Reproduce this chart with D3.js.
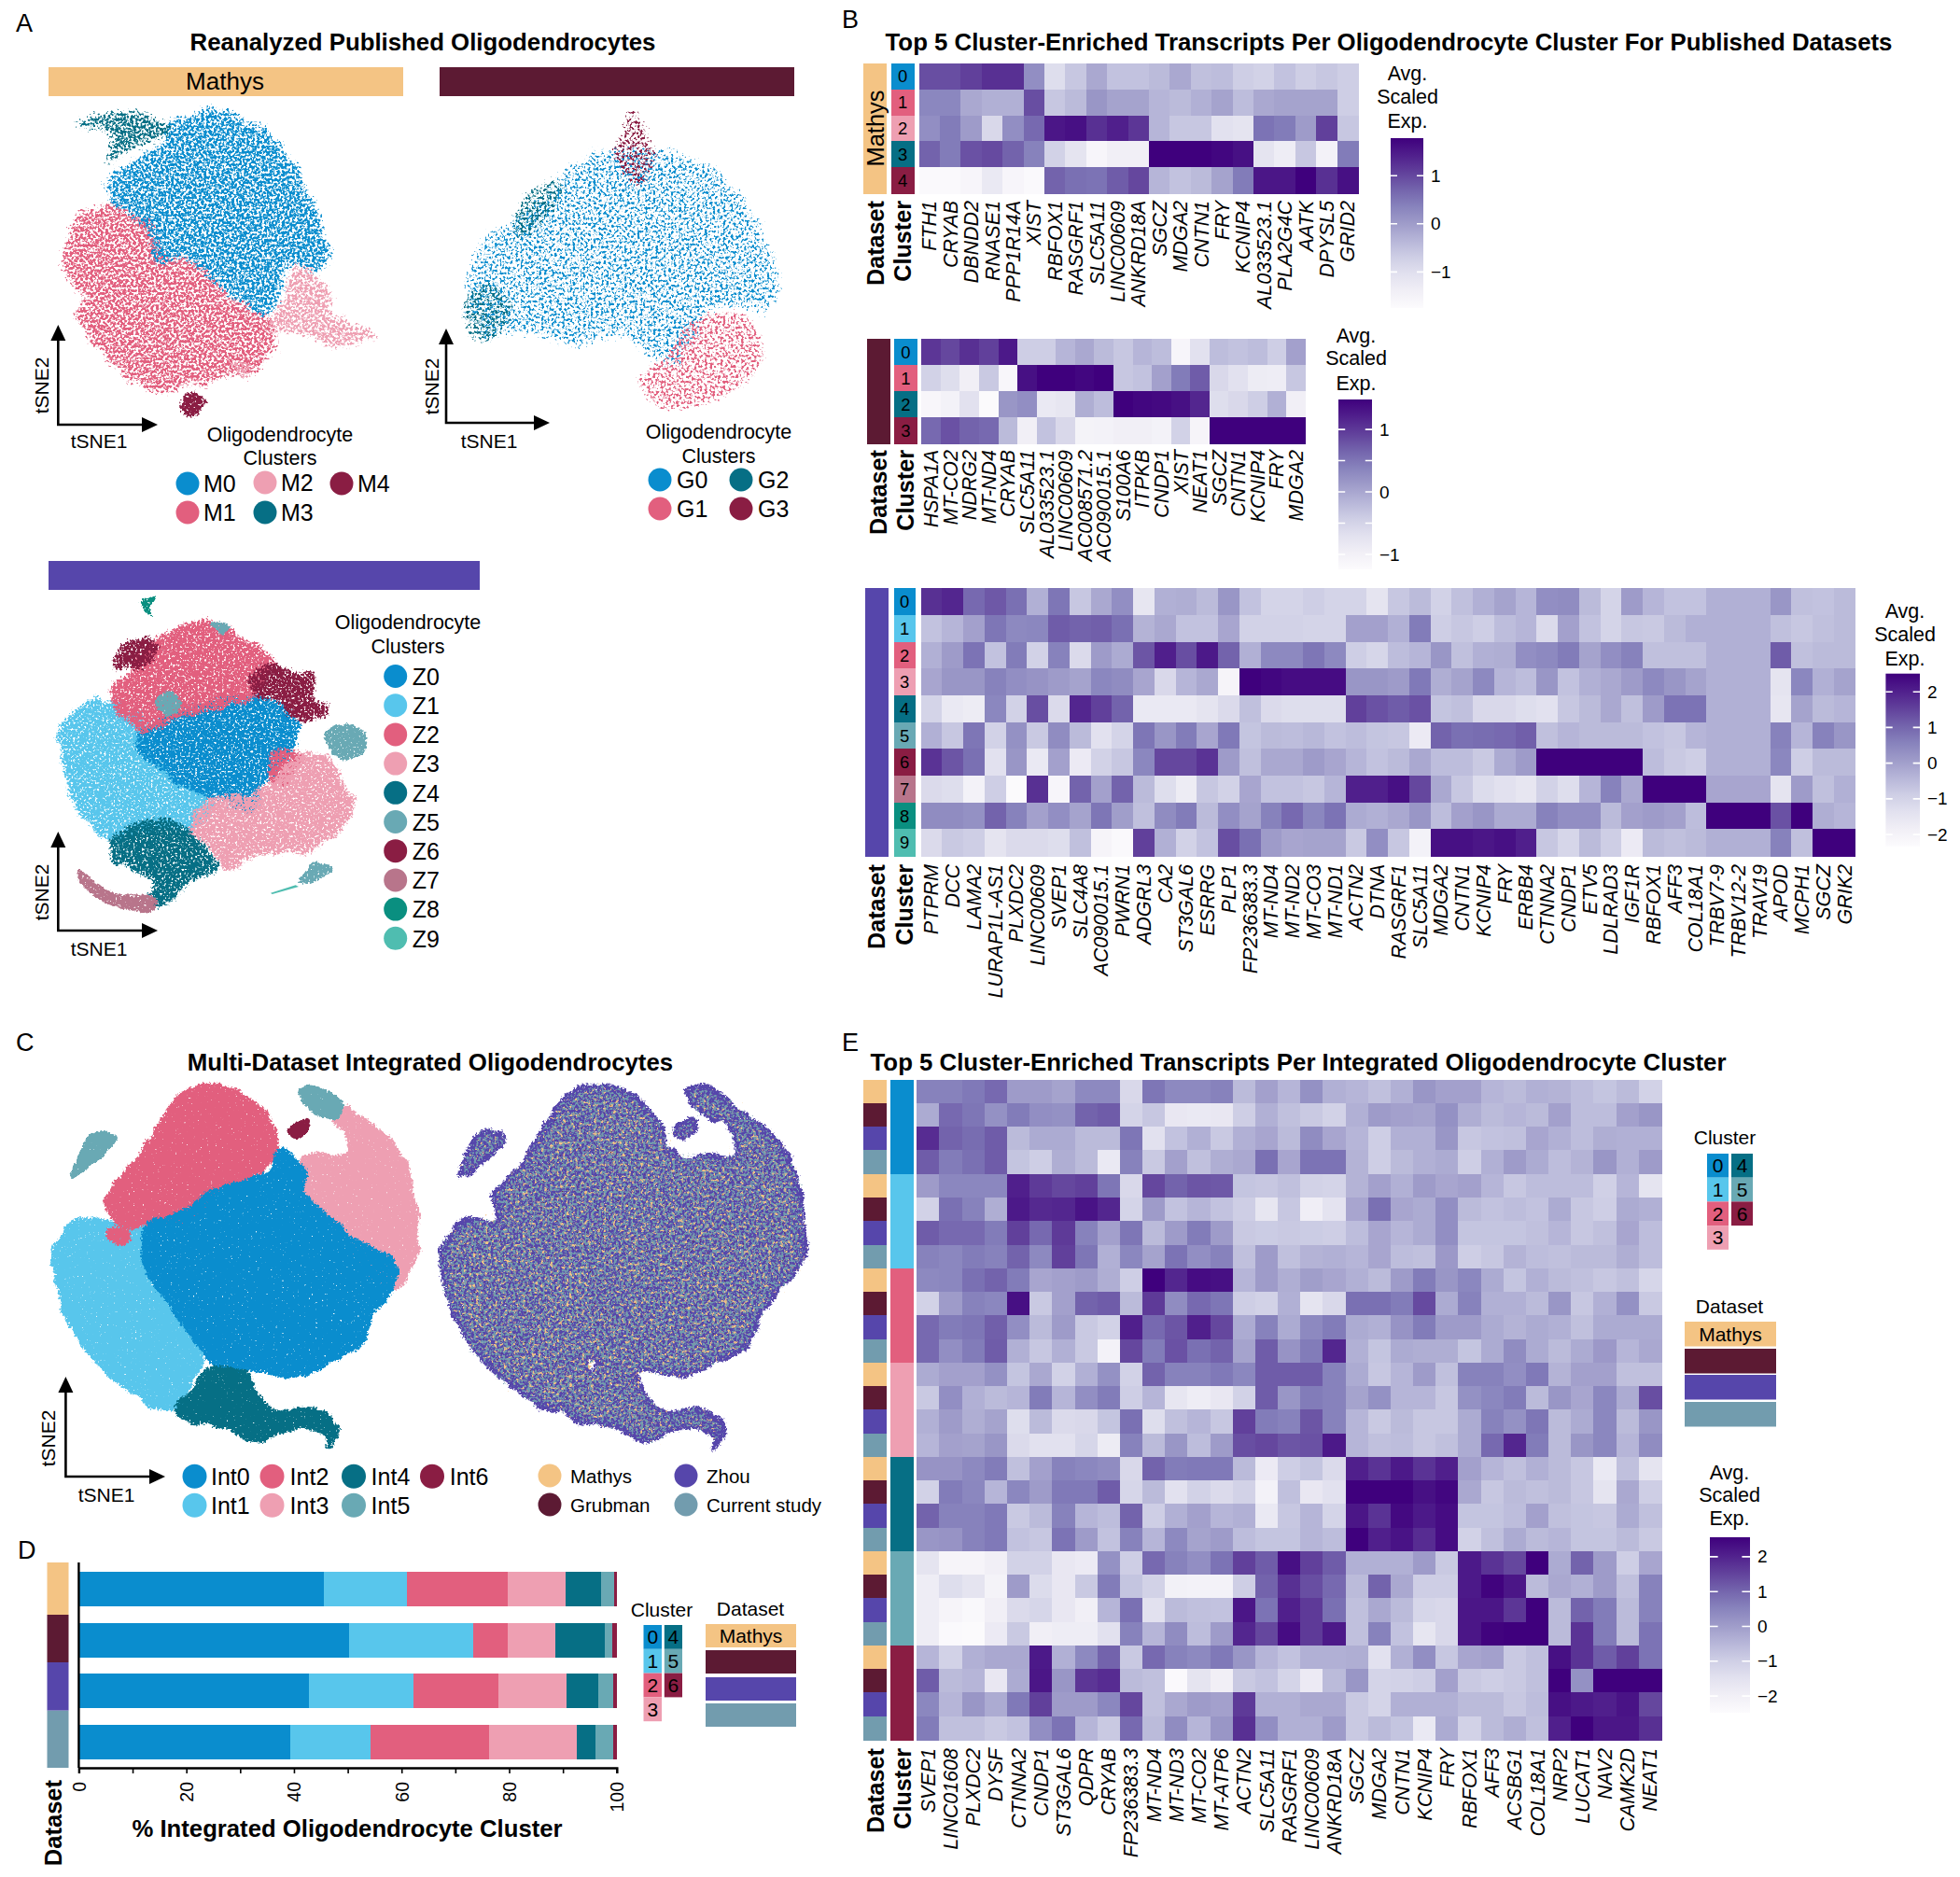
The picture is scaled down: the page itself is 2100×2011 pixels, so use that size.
<!DOCTYPE html>
<html><head><meta charset="utf-8">
<script src="https://cdn.jsdelivr.net/npm/d3@7/dist/d3.min.js"></script>
<style>html,body{margin:0;padding:0;background:#fff}svg{display:block;font-family:"Liberation Sans",Arial,sans-serif}</style>
</head><body><svg id="c" width="2100" height="2011"></svg>
<script>
// ---------- colours ----------
const clusterColors=["#0A8DCE","#58C6EC","#E25F7E","#EE9FB2","#066F85","#69A9B4","#8A1D43"];
const zhouClusterColors=["#0A8DCE","#58C6EC","#E25F7E","#EE9FB2","#066F85","#69A9B4","#8A1D43","#B8758B","#0A8F80","#4FBDB0"];
const mathysClusterColors=["#0A8DCE","#E25F7E","#EE9FB2","#066F85","#8A1D43"];
const grubmanClusterColors=["#0A8DCE","#E25F7E","#066F85","#8A1D43"];
const datasetNames=["Mathys","Grubman","Zhou","Current study"];
const datasetColors=["#F4C484","#5C1A33","#5646AB","#729CAE"];

// ---------- heatmap values: position on each colour bar, 0 (bottom) to 100 (top) ----------
const mathysGenes=["FTH1","CRYAB","DBNDD2","RNASE1","PPP1R14A","XIST","RBFOX1","RASGRF1","SLC5A11","LINC00609","ANKRD18A","SGCZ","MDGA2","CNTN1","FRY","KCNIP4","AL033523.1","PLA2G4C","AATK","DPYSL5","GRID2"];
const mathysLevels=[
[76,76,80,85,85,55,22,33,45,35,35,38,45,36,37,30,28,35,30,33,30],
[58,58,45,42,42,76,33,38,52,47,47,40,38,42,47,37,45,47,47,47,30],
[55,62,50,25,55,68,93,95,85,90,83,40,33,33,20,18,65,62,50,80,33],
[70,62,75,77,70,60,28,18,5,10,10,100,100,100,98,95,18,12,33,8,62],
[2,2,5,15,5,2,70,66,65,72,78,40,35,38,47,62,93,93,100,85,95]];
const grubmanGenes=["HSPA1A","MT-CO2","NDRG2","MT-ND4","CRYAB","SLC5A11","AL033523.1","LINC00609","AC008571.2","AC090015.1","S100A6","ITPKB","CNDP1","XIST","NEAT1","SGCZ","CNTN1","KCNIP4","FRY","MDGA2"];
const grubmanLevels=[
[83,78,85,80,92,30,30,40,45,38,33,40,37,5,20,37,35,37,30,48],
[28,22,10,32,4,95,100,100,98,100,33,35,48,62,72,25,20,13,12,33],
[4,8,20,1,52,55,15,17,43,37,100,98,97,95,88,22,25,30,42,10],
[68,75,70,68,38,10,35,25,7,8,10,10,8,28,6,100,100,100,100,100]];
const zhouGenes=["PTPRM","DCC","LAMA2","LURAP1L-AS1","PLXDC2","LINC00609","SVEP1","SLC4A8","AC090015.1","PWRN1","ADGRL3","CA2","ST3GAL6","ESRRG","PLP1","FP236383.3","MT-ND4","MT-ND2","MT-CO3","MT-ND1","ACTN2","DTNA","RASGRF1","SLC5A11","MDGA2","CNTN1","KCNIP4","FRY","ERBB4","CTNNA2","CNDP1","ETV5","LDLRAD3","IGF1R","RBFOX1","AFF3","COL18A1","TRBV7-9","TRBV12-2","TRAV19","APOD","MCPH1","SGCZ","GRIK2"];
const zhouLevels=[
[85,88,68,73,66,42,64,33,45,55,17,42,43,38,52,35,27,27,30,27,27,18,33,38,28,36,42,47,40,55,56,38,27,50,40,35,35,42,42,42,52,36,35,38],
[35,40,48,64,57,58,72,70,71,66,41,45,35,35,46,28,28,28,27,27,48,48,42,62,30,33,30,37,40,24,48,35,27,33,32,38,42,42,42,42,36,33,36,38],
[42,50,65,35,62,28,60,24,50,44,74,90,76,92,70,42,57,57,64,57,30,26,37,40,52,36,42,43,55,57,62,47,55,60,36,36,36,42,42,42,72,36,38,38],
[46,52,52,60,55,53,50,47,58,56,46,25,40,45,6,100,98,96,96,96,52,52,50,63,43,47,57,40,37,52,35,42,45,50,57,52,47,42,42,42,18,58,42,47],
[27,15,13,58,28,76,24,88,80,70,15,15,15,18,24,36,24,22,22,22,80,75,72,75,34,36,25,25,22,20,33,38,45,36,50,65,65,42,42,42,17,47,38,40],
[42,33,64,28,54,32,56,38,20,27,64,52,62,46,63,34,38,37,39,35,37,34,33,14,70,66,67,68,71,36,40,38,38,38,35,33,40,42,42,42,60,40,60,52],
[84,74,66,20,52,15,48,14,28,33,58,78,78,84,50,36,45,45,50,46,40,35,38,45,37,37,32,44,50,100,100,100,100,100,37,32,30,42,42,42,58,30,38,38],
[24,22,8,30,1,85,5,70,48,70,38,22,13,33,28,46,35,35,33,40,90,90,95,78,45,33,23,20,17,28,22,40,60,45,100,100,100,46,46,46,18,50,36,42],
[56,56,54,70,60,48,55,47,64,49,36,56,62,38,55,47,60,68,58,65,44,42,45,52,37,48,52,44,44,60,55,55,38,48,50,48,37,100,100,100,75,100,43,40],
[24,32,30,18,24,24,22,36,6,2,80,42,28,35,76,66,50,46,47,47,32,55,33,8,95,95,93,95,90,33,26,38,30,14,38,36,38,42,42,42,60,36,100,100]];
const intGenes=["SVEP1","LINC01608","PLXDC2","DYSF","CTNNA2","CNDP1","ST3GAL6","QDPR","CRYAB","FP236383.3","MT-ND4","MT-ND3","MT-CO2","MT-ATP6","ACTN2","SLC5A11","RASGRF1","LINC00609","ANKRD18A","SGCZ","MDGA2","CNTN1","KCNIP4","FRY","RBFOX1","AFF3","ACSBG1","COL18A1","NRP2","LUCAT1","NAV2","CAMK2D","NEAT1"];
const intLevels=[
[60,60,63,68,50,50,47,57,57,25,64,57,57,60,38,48,40,54,42,40,36,42,52,48,48,40,38,42,41,37,34,38,28],
[44,68,64,54,62,55,54,70,72,27,33,16,15,16,30,42,36,32,28,42,50,48,47,54,43,38,40,38,48,37,37,48,52],
[86,70,67,72,38,44,44,38,38,64,20,35,42,32,42,46,38,56,46,40,30,42,42,52,33,35,36,46,42,37,43,42,42],
[72,62,66,72,34,30,43,38,15,60,32,48,36,43,45,66,46,65,65,41,30,38,42,44,30,42,50,44,37,41,52,42,50],
[50,58,58,58,90,82,78,80,64,25,78,70,74,73,34,33,36,28,27,41,48,42,50,46,48,40,33,37,37,37,29,40,18],
[28,66,60,43,92,87,88,94,88,27,50,35,40,35,30,17,33,11,19,46,66,46,44,55,38,35,37,35,44,33,30,44,42],
[72,68,68,62,80,68,82,60,48,64,38,50,62,50,32,31,32,31,30,37,46,40,44,55,34,34,34,36,40,33,36,46,37],
[60,58,62,60,70,57,80,64,42,58,47,65,55,60,36,50,36,41,42,40,46,37,36,51,30,33,41,37,36,38,38,43,37],
[57,58,66,70,62,46,48,50,43,30,100,88,96,95,40,50,43,49,46,42,38,50,62,52,58,44,34,42,38,36,33,36,26],
[28,50,60,58,95,32,48,70,72,38,82,56,68,64,30,28,42,18,25,66,66,62,77,44,60,42,42,38,52,33,42,54,32],
[68,62,64,71,55,38,50,32,28,90,68,74,90,78,44,60,44,57,62,44,42,53,62,50,50,44,41,44,42,36,44,44,44],
[68,55,62,72,42,33,42,32,8,78,62,75,66,70,47,72,53,62,88,42,34,44,43,43,34,44,56,44,38,44,51,40,45],
[44,48,48,54,34,45,28,42,54,28,70,60,60,63,58,72,72,72,60,44,33,40,50,36,60,60,55,63,41,48,48,36,36],
[32,55,42,38,40,62,40,55,62,30,40,17,12,16,28,72,52,62,60,47,54,40,40,33,54,58,62,38,52,46,58,44,76],
[42,50,43,47,22,38,24,25,34,66,22,36,40,33,80,62,60,74,60,40,32,38,33,33,44,60,54,64,38,44,58,38,52],
[40,48,47,52,24,20,20,26,13,60,38,52,37,50,76,78,74,75,92,40,36,37,33,36,44,68,88,62,38,52,58,40,56],
[53,53,57,62,36,48,60,58,56,25,70,62,63,63,38,14,30,34,24,90,84,92,84,90,48,40,36,42,38,33,15,36,18],
[28,62,58,40,58,50,63,63,72,26,38,20,28,24,28,8,36,16,20,100,100,100,95,98,45,33,38,36,38,33,18,45,30],
[70,60,60,63,32,38,60,40,37,70,30,42,48,40,42,15,33,40,27,93,84,97,92,96,34,34,37,48,36,34,33,44,36],
[52,53,60,63,35,33,65,50,35,60,40,57,47,50,37,34,34,40,37,100,90,94,86,96,28,36,44,38,40,34,34,38,32],
[18,6,6,10,28,28,16,14,54,30,68,60,55,65,80,72,95,80,72,42,42,42,50,32,92,84,78,100,44,70,50,30,46],
[12,22,18,7,50,23,16,32,62,34,28,9,8,8,30,70,85,76,68,38,70,45,30,30,92,99,93,38,45,42,50,36,60],
[12,6,3,10,24,26,16,10,40,66,20,38,36,35,93,65,90,82,66,36,45,38,26,25,93,93,83,100,38,70,62,38,60],
[12,2,1,14,32,10,12,12,20,60,40,56,37,50,88,78,96,82,92,36,60,35,17,25,93,99,100,100,38,84,62,38,65],
[40,28,42,45,45,92,42,57,70,32,68,60,57,63,52,40,35,42,42,43,20,42,55,33,46,48,32,36,95,84,72,80,65],
[72,38,40,16,44,93,52,83,86,38,36,2,18,10,32,35,27,14,38,52,27,28,30,48,32,30,32,36,100,54,100,100,100],
[58,40,52,44,63,80,50,50,58,78,36,45,50,48,82,42,42,45,45,32,27,42,42,42,38,38,33,37,95,92,90,94,78],
[62,36,36,32,35,55,65,40,32,68,38,56,40,52,85,55,42,42,50,32,38,34,15,44,28,38,43,36,90,100,93,93,85]];

// ---------- stacked bars: % of each dataset in integrated clusters ----------
const barClusters=["0","1","2","3","4","5","6"];
const barShares=[
[45.6,15.4,18.7,10.8,6.6,2.5,0.4],
[50.3,23.1,6.3,8.9,9.2,1.4,0.8],
[42.8,19.4,15.8,12.7,5.9,2.8,0.6],
[39.3,15.0,21.9,16.3,3.5,3.4,0.6]];

// ---------- tSNE clouds. Individual cells cannot be recovered, so each cluster is a hand-traced outline;
// the grainy look is an SVG filter texture, not data. ----------
const mathysClouds=[
[[[470,215],[540,190],[600,170],[680,205],[760,245],[815,300],[860,370],[895,440],[930,510],[960,590],[965,660],[930,690],[860,660],[815,740],[790,810],[745,830],[700,790],[640,760],[580,700],[500,650],[420,660],[400,600],[390,540],[320,500],[280,470],[260,420],[330,350],[400,310],[450,260]]],
[[[160,510],[230,490],[300,490],[400,560],[420,650],[500,650],[580,710],[640,770],[700,800],[745,840],[790,880],[780,950],[700,1020],[620,1030],[560,1050],[460,1060],[380,1060],[320,1020],[250,960],[190,880],[165,820],[200,790],[140,720],[115,650],[140,590]]],
[[[860,670],[920,720],[970,770],[960,830],[1030,860],[1115,900],[1060,920],[980,925],[900,890],[820,880],[770,870],[820,800],[840,720]],[[650,990],[710,990],[700,1025],[665,1010]]],
[[[165,215],[250,195],[330,185],[400,205],[450,235],[400,265],[350,275],[300,310],[260,335],[270,290],[280,250],[220,225]]],
[[[510,1085],[560,1095],[575,1100],[545,1150],[510,1155],[490,1130]]]];
const grubmanClouds=[
[[[425,165],[470,125],[510,118],[550,125],[585,150],[610,185],[622,225],[610,250],[575,245],[555,265],[540,295],[500,270],[460,275],[420,265],[385,270],[372,240],[390,190]]],
[[[555,255],[590,250],[612,275],[600,305],[560,325],[530,328],[510,305],[530,285]]],
[[[372,240],[395,225],[410,255],[385,275],[372,265]],[[420,155],[450,145],[440,175],[410,195]]],
[[[505,85],[515,100],[525,125],[510,150],[490,125],[497,105]]]];
const zhouClouds=[
[[[370,500],[470,440],[600,400],[700,385],[800,410],[860,470],[840,560],[790,620],[740,660],[720,740],[640,710],[560,680],[480,650],[420,590],[365,550]]],
[[[150,440],[220,400],[300,420],[370,480],[365,550],[420,600],[480,660],[590,720],[530,790],[420,800],[320,810],[260,830],[200,780],[150,680],[120,570],[110,480]]],
[[[330,300],[370,240],[450,190],[530,150],[620,160],[700,210],[780,270],[740,340],[690,390],[600,400],[470,440],[380,480],[310,430],[270,390],[290,340]],[[800,560],[870,580],[830,650],[790,640]]],
[[[530,780],[600,720],[720,700],[800,650],[870,580],[950,580],[990,650],[1040,730],[1000,790],[940,850],[830,870],[730,880],[640,920],[570,840]]],
[[[280,850],[370,800],[500,810],[560,880],[600,920],[520,960],[460,1000],[440,1040],[400,1040],[410,970],[360,930],[290,900]]],
[[[960,500],[1010,470],[1080,490],[1070,560],[1020,580],[960,530]],[[420,380],[460,365],[490,410],[450,435],[420,420]],[[590,140],[650,155],[620,175]],[[870,980],[930,915],[975,930],[920,970],[880,985]]],
[[[720,340],[770,280],[820,310],[900,325],[900,380],[950,420],[880,445],[830,400],[750,370]],[[285,260],[350,205],[400,215],[390,250],[330,280]]],
[[[160,935],[230,990],[300,1020],[400,1020],[410,1060],[320,1060],[230,1030],[165,965]]],
[[[368,75],[405,62],[410,70],[395,85],[395,120],[375,95]]],
[[[780,1010],[860,985],[870,990],[785,1014]]]];
const intClouds=[
[[[480,250],[530,320],[520,370],[570,460],[620,530],[700,620],[690,700],[650,790],[640,860],[580,920],[510,970],[440,950],[370,950],[330,880],[280,760],[230,640],[225,500],[290,450],[370,370],[460,320]]],
[[[100,470],[150,480],[230,490],[225,640],[280,760],[330,900],[310,1000],[270,1080],[190,1010],[130,920],[80,800],[60,700],[50,580],[70,510]]],
[[[300,60],[350,40],[420,80],[470,180],[470,260],[440,320],[370,370],[310,470],[230,480],[180,480],[150,410],[210,280],[250,170]],[[150,510],[190,510],[190,540],[160,530]]],
[[[600,110],[650,160],[700,240],[730,360],[740,500],[740,580],[700,680],[650,640],[610,530],[570,450],[520,360],[530,270],[610,270],[610,190],[580,130]]],
[[[340,960],[410,960],[440,1040],[470,1090],[550,1085],[580,1130],[585,1170],[530,1130],[480,1150],[440,1180],[370,1130],[300,1110],[285,1080],[320,1020]],[[570,1110],[588,1140],[570,1205],[578,1150]]],
[[[520,55],[550,45],[600,100],[585,145],[530,100]],[[85,330],[130,190],[170,210],[120,290]]],
[[[495,185],[535,150],[525,200],[510,205]]]];

// ---------- drawing ----------
const svg=d3.select("#c");
const defs=svg.append("defs");
const purple=d3.scaleSequential(d3.interpolatePurples).domain([0,100]);
let fid=0;
function text(s,x,y,o={}){
  const t=svg.append("text").text(s).attr("x",x).attr("y",y).attr("font-size",o.size||21)
   .attr("text-anchor",o.anchor||"middle").attr("fill",o.fill||"#000");
  if(o.bold)t.attr("font-weight","bold");
  if(o.rot!=null)t.attr("transform",`rotate(${o.rot} ${x} ${y})`);
  return t;
}
function speckle(color,box,o){
  const id="sp"+(fid++);
  const f=defs.append("filter").attr("id",id).attr("filterUnits","userSpaceOnUse")
    .attr("x",box[0]).attr("y",box[1]).attr("width",box[2]).attr("height",box[3])
    .attr("color-interpolation-filters","sRGB");
  f.append("feTurbulence").attr("type","fractalNoise").attr("baseFrequency",.07).attr("numOctaves",3).attr("seed",o.seed+100).attr("result","w");
  f.append("feDisplacementMap").attr("in","SourceAlpha").attr("in2","w").attr("scale",o.rough||16).attr("xChannelSelector","R").attr("yChannelSelector","G").attr("result","d");
  f.append("feGaussianBlur").attr("in","d").attr("stdDeviation",o.blur).attr("result","a");
  f.append("feTurbulence").attr("type","fractalNoise").attr("baseFrequency",o.freq).attr("numOctaves",o.oct||2).attr("seed",o.seed).attr("result","n");
  f.append("feComposite").attr("in","a").attr("in2","n").attr("operator","arithmetic")
    .attr("k1",0).attr("k2",0.5*o.gain).attr("k3",0.5).attr("k4",0).attr("result","v");
  f.append("feComponentTransfer").attr("in","v").attr("result","m").append("feFuncA").attr("type","linear").attr("slope",14).attr("intercept",-7);
  f.append("feFlood").attr("flood-color",color).attr("result","c");
  f.append("feComposite").attr("in","c").attr("in2","m").attr("operator","in");
  return id;
}
const outline=(sx,sy)=>d3.line().x(d=>sx(d[0])).y(d=>sy(d[1])).curve(d3.curveCatmullRomClosed.alpha(.5));
function blobs(g,data,ln,grow){
  g.selectAll("path").data(data).join("path").attr("d",ln).attr("fill","#000").attr("stroke","#000").attr("stroke-width",grow).attr("stroke-linejoin","round");
}
function clouds(data,colors,sx,sy,box,o,order){
  const ln=outline(sx,sy);
  (order||data.map((_,i)=>i)).forEach(i=>{
    const big=d3.max(data[i],p=>p.length)>8;
    const id=speckle(colors[i],box,big?{...o,seed:o.seed+i}:{...o,seed:o.seed+i,gain:Math.min(.95,o.gain*o.boost),blur:o.blur*.6,rough:o.rough*.5});
    blobs(svg.append("g").attr("filter",`url(#${id})`),data[i],ln,big?o.grow:4);
  });
}
function arrows(ox,oy,tipY,tipX,l1,l2){
  const g=svg.append("g");
  g.append("path").attr("d",`M${ox},${tipY+8}V${oy}H${tipX-8}`).attr("fill","none").attr("stroke","#000").attr("stroke-width",2.6);
  g.append("path").attr("d",`M${ox},${tipY}l-8,17h16z`).attr("fill","#000");
  g.append("path").attr("d",`M${tipX},${oy}l-17,-8v16z`).attr("fill","#000");
  text("tSNE2",l2[0],l2[1],{rot:-90,size:21});
  text("tSNE1",l1[0],l1[1],{size:21});
}
function dotLegend(items){
  items.forEach(d=>{
    svg.append("circle").attr("cx",d.x).attr("cy",d.y).attr("r",d.r||12.5).attr("fill",d.c);
    text(d.t,d.lx,d.y+(d.size||25)*.37,{anchor:"start",size:d.size||25});
  });
}
function colorbar(o){
  const id="cb"+(fid++);
  const yS=d3.scaleLinear().domain(o.domain).range([o.y1,o.y0]);
  const g=defs.append("linearGradient").attr("id",id).attr("x1",0).attr("y1",1).attr("x2",0).attr("y2",0);
  d3.range(0,1.001,.1).forEach(t=>g.append("stop").attr("offset",t).attr("stop-color",d3.interpolatePurples(t)));
  svg.append("rect").attr("x",o.x0).attr("y",o.y0).attr("width",o.x1-o.x0).attr("height",o.y1-o.y0).attr("fill",`url(#${id})`);
  const w=o.x1-o.x0;
  svg.append("g").selectAll("path").data(o.marks||o.ticks).join("path")
    .attr("d",d=>`M${o.x0},${yS(d)}h${w*.2}M${o.x1},${yS(d)}h${-w*.2}`).attr("stroke","#fff").attr("stroke-width",1.6);
  const ax=svg.append("g").attr("transform",`translate(${o.x1+8},0)`).call(d3.axisRight(yS).tickValues(o.ticks).tickSize(0).tickPadding(0).tickFormat(d3.format("d")));
  ax.select(".domain").remove();
  ax.selectAll("text").attr("font-size",19).attr("font-family","inherit");
  ["Avg.","Scaled","Exp."].forEach((s,i)=>text(s,o.tx,o.ty[i],{size:21.5}));
}
function heatmap(o){
  const x=d3.scaleBand().domain(o.genes).range([o.x0,o.x1]);
  const y=d3.scaleBand().domain(d3.range(o.levels.length)).range([o.y0,o.y1]);
  const g=svg.append("g").attr("shape-rendering","crispEdges");
  o.levels.forEach((row,r)=>{
    g.selectAll(null).data(row).join("rect").attr("x",(d,i)=>x(o.genes[i])).attr("y",y(r))
     .attr("width",x.bandwidth()+.5).attr("height",y.bandwidth()+.5).attr("fill",d=>purple(d));
  });
  const rows=d3.range(o.levels.length);
  g.selectAll(null).data(rows).join("rect").attr("x",o.cl[0]).attr("width",o.cl[1]-o.cl[0]).attr("y",r=>y(r)).attr("height",y.bandwidth()+.5).attr("fill",r=>o.clusterColor(r));
  g.selectAll(null).data(rows).join("rect").attr("x",o.ds[0]).attr("width",o.ds[1]-o.ds[0]).attr("y",r=>y(r)).attr("height",y.bandwidth()+.5).attr("fill",r=>o.datasetColor(r));
  if(o.numbers) rows.forEach(r=>text(String(r),(o.cl[0]+o.cl[1])/2,y(r)+y.bandwidth()/2+6.7,{size:18.5}));
  const ax=svg.append("g").attr("transform",`translate(0,${o.labelTop})`).call(d3.axisBottom(x).tickSize(0));
  ax.select(".domain").remove();
  ax.selectAll("text").attr("transform","rotate(-90)").attr("text-anchor","end").attr("x",0).attr("y",0).attr("dy",".35em")
    .attr("font-size",21.5).attr("font-style","italic").attr("font-family","inherit").attr("fill","#000");
  text("Dataset",(o.ds[0]+o.ds[1])/2+9,o.labelTop,{rot:-90,anchor:"end",bold:true,size:25.2});
  text("Cluster",(o.cl[0]+o.cl[1])/2+9,o.labelTop,{rot:-90,anchor:"end",bold:true,size:25.2});
}
function legendCells(x0,x1,x2,x3,y0,h){
  [0,1,2,3].forEach(i=>{svg.append("rect").attr("x",x0).attr("y",y0+i*h).attr("width",x1-x0).attr("height",h).attr("fill",clusterColors[i]);
    text(String(i),(x0+x1)/2,y0+i*h+h/2+7.5,{size:21});});
  [4,5,6].forEach((c,i)=>{svg.append("rect").attr("x",x2).attr("y",y0+i*h).attr("width",x3-x2).attr("height",h).attr("fill",clusterColors[c]);
    text(String(c),(x2+x3)/2,y0+i*h+h/2+7.5,{size:21});});
}
function legendDatasets(x0,x1,ys,h){
  ys.forEach((y,i)=>svg.append("rect").attr("x",x0).attr("y",y).attr("width",x1-x0).attr("height",h).attr("fill",datasetColors[i]));
  text("Mathys",(x0+x1)/2,ys[0]+h/2+7.5,{size:21});
}

// panel letters & titles
[["A",17,34],["B",902,30],["C",17,1126],["D",19,1670],["E",902,1126]].forEach(d=>text(d[0],d[1],d[2],{anchor:"start",size:27}));
text("Reanalyzed Published Oligodendrocytes",453,54,{bold:true,size:25.8});
text("Top 5 Cluster-Enriched Transcripts Per Oligodendrocyte Cluster For Published Datasets",1488,54,{bold:true,size:25.8});
text("Multi-Dataset Integrated Oligodendrocytes",461,1147,{bold:true,size:25.8});
text("Top 5 Cluster-Enriched Transcripts Per Integrated Oligodendrocyte Cluster",1391,1147,{bold:true,size:25.8});

// banners
[[52,432,72,103,0],[471,851,72,103,1],[52,514,601,632,2]].forEach(d=>svg.append("rect").attr("x",d[0]).attr("y",d[2]).attr("width",d[1]-d[0]).attr("height",d[3]-d[2]).attr("fill",datasetColors[d[4]]));
text("Mathys",241,96,{size:26});

// A: Mathys
{const sx=d3.scaleLinear().domain([0,1260]).range([30,450]),sy=d3.scaleLinear().domain([0,1200]).range([60,460]);
 clouds(mathysClouds,mathysClusterColors,sx,sy,[30,100,430,360],{freq:.37,gain:.6,blur:4.5,seed:11,grow:12,rough:18,boost:1.3},[1,0,2,3,4]);
 arrows(62.3,455,348,169,[106,480],[52,413]);
 text("Oligodendrocyte",300,473,{size:21.5});text("Clusters",300,498,{size:21.5});
 dotLegend([["M0",201,518,0],["M1",201,549,1],["M2",284,517,2],["M3",284,549,3],["M4",366,518,4]].map(d=>({t:d[0],x:d[1],y:d[2],lx:d[1]+17,c:mathysClusterColors[d[3]]})));
}
// A: Grubman
{const sx=d3.scaleLinear().domain([0,1568]).range([0,2100]),sy=d3.scaleLinear().domain([0,1502]).range([0,2011]);
 clouds(grubmanClouds,grubmanClusterColors,sx,sy,[470,100,400,360],{freq:.36,gain:.5,blur:6,seed:31,grow:10,rough:22,boost:1.02},[0,1,2,3]);
 arrows(478,453,352,589,[524,480],[470,414]);
 text("Oligodendrocyte",770,470,{size:21.5});text("Clusters",770,496,{size:21.5});
 dotLegend([["G0",707,514,0],["G1",707,545,1],["G2",794,514,2],["G3",794,545,3]].map(d=>({t:d[0],x:d[1],y:d[2],lx:d[1]+18,c:grubmanClusterColors[d[3]]})));
}
// A: Zhou
{const sx=d3.scaleLinear().domain([0,1500]).range([30,530]),sy=d3.scaleLinear().domain([0,1260]).range([620,1040]);
 const boxZ=[40,630,370,360];
 clouds(zhouClouds.slice(0,9),zhouClusterColors,sx,sy,boxZ,{freq:.42,gain:.72,blur:3,seed:51,grow:14,rough:16,boost:1.1},[1,0,2,3,4,5,6,7,8]);
 svg.append("g").selectAll("path").data(zhouClouds[9]).join("path").attr("d",d3.line().x(d=>sx(d[0])).y(d=>sy(d[1]))).attr("fill",zhouClusterColors[9]);
 arrows(62.3,997,891,169,[106,1024],[52,956]);
 text("Oligodendrocyte",437,674,{size:21.5});text("Clusters",437,700,{size:21.5});
 dotLegend(d3.range(10).map((i)=>({t:"Z"+i,x:423.7,y:724.5+31.2*i,lx:441.7,c:zhouClusterColors[i]})));
}
// B heatmaps
heatmap({genes:mathysGenes,levels:mathysLevels,x0:984.6,x1:1455,y0:67.7,y1:207.3,ds:[924.7,950.3],cl:[954.6,979.8],labelTop:215,numbers:true,
  clusterColor:r=>mathysClusterColors[r],datasetColor:()=>datasetColors[0]});
text("Mathys",946.5,137.5,{rot:-90,size:25.5});
colorbar({x0:1490,x1:1525,y0:148,y1:330,domain:[-1.75,1.78],ticks:[-1,0,1],tx:1508,ty:[86,111,137]});
heatmap({genes:grubmanGenes,levels:grubmanLevels,x0:987.3,x1:1398.7,y0:363,y1:475,ds:[928.7,953.6],cl:[957.8,983],labelTop:482,numbers:true,
  clusterColor:r=>grubmanClusterColors[r],datasetColor:()=>datasetColors[1]});
colorbar({x0:1434,x1:1470,y0:428,y1:610,domain:[-1.24,1.48],ticks:[-1,0,1],marks:[-1,-.5,0,.5,1],tx:1453,ty:[367,391,418]});
heatmap({genes:zhouGenes,levels:zhouLevels,x0:986.5,x1:1987.5,y0:630.3,y1:917,ds:[926.5,952],cl:[957.5,981],labelTop:926,numbers:true,
  clusterColor:r=>zhouClusterColors[r],datasetColor:()=>datasetColors[2]});
colorbar({x0:2020.4,x1:2057,y0:721.7,y1:906.7,domain:[-2.33,2.51],ticks:[-2,-1,0,1,2],tx:2041,ty:[662,687,713]});

// C
{const sy=d3.scaleLinear().domain([0,1440]).range([1150,1630]);
 const sxL=d3.scaleLinear().domain([0,1568]).range([30,910]);
 clouds(intClouds,clusterColors,sxL,sy,[40,1150,430,420],{freq:.42,gain:.86,blur:2,seed:71,grow:8,rough:10,boost:1.05},[1,3,2,5,0,4,6]);
 const sxR=d3.scaleLinear().domain([-740,828]).range([30,910]);
 const all=intClouds.flat(), ln=outline(sxR,sy);
 [[2,{freq:.42,gain:.86,blur:2,seed:5,rough:10}],
  [0,{freq:.3,gain:.47,blur:8,seed:14,oct:3,rough:10}],
  [3,{freq:.38,gain:.54,blur:4,seed:9,oct:2,rough:10}],
  [1,{freq:.5,gain:.3,blur:9,seed:22,oct:1,rough:10}]].forEach(([d,p])=>{
   const id=speckle(datasetColors[d],[460,1150,420,420],p);
   blobs(svg.append("g").attr("filter",`url(#${id})`),all,ln,8);
 });
 arrows(70.4,1582,1475,177,[114,1609],[59,1541]);
 dotLegend([["Int0",208.5,1581.7,0,226],["Int1",208.5,1612.7,1,226],["Int2",291.5,1581.7,2,310.6],["Int3",291.5,1612.7,3,310.6],["Int4",379,1581.7,4,397.6],["Int5",379,1612.7,5,397.6],["Int6",463,1581.7,6,481.7]].map(d=>({t:d[0],x:d[1],y:d[2],lx:d[4],r:13,c:clusterColors[d[3]]})));
 dotLegend([[0,589,1581,611],[1,589,1612,611],[2,735,1581,757],[3,735,1612,757]].map(d=>({t:datasetNames[d[0]],x:d[1],y:d[2],lx:d[3],r:12.5,size:20.5,c:datasetColors[d[0]]})));
}
// D
{const x=d3.scaleLinear().domain([0,100]).range([84.4,660.8]);
 const y2=d3.scaleOrdinal().domain(d3.range(4)).range([1684,1739,1793,1848]);
 const stack=d3.stack().keys(d3.range(7)).value((row,k)=>row[k])(barShares);
 svg.append("g").selectAll("g").data(stack).join("g").attr("fill",(s,i)=>clusterColors[i]).attr("shape-rendering","crispEdges")
  .selectAll("rect").data(s=>s).join("rect").attr("x",d=>x(d[0])).attr("width",d=>x(d[1])-x(d[0])).attr("y",(d,i)=>y2(i)).attr("height",36.5);
 const cuts=[1674,1730,1781,1832.7,1894];
 datasetColors.forEach((c,i)=>svg.append("rect").attr("x",50.5).attr("y",cuts[i]).attr("width",23).attr("height",cuts[i+1]-cuts[i]).attr("fill",c));
 svg.append("line").attr("x1",84.4).attr("x2",84.4).attr("y1",1674).attr("y2",1894).attr("stroke","#000").attr("stroke-width",2.4);
 const ax=svg.append("g").attr("transform","translate(0,1894)").call(d3.axisBottom(x).tickValues(d3.range(0,101,10)).tickSize(6).tickFormat(d=>d%20?"":d));
 ax.select(".domain").attr("stroke-width",2.4).attr("stroke","#000");
 ax.selectAll("line").attr("stroke-width",1.6);
 ax.selectAll("text").attr("transform","rotate(-90)").attr("text-anchor","end").attr("x",-15).attr("y",0).attr("dy",".35em").attr("font-size",19.5).attr("font-family","inherit");
 text("Dataset",66,1907,{rot:-90,anchor:"end",bold:true,size:25.5});
 text("% Integrated Oligodendrocyte Cluster",372,1968,{bold:true,size:25.7});
 text("Cluster",709,1732,{size:21});text("Dataset",804,1731,{size:21});
 legendCells(689.5,709,711.8,731,1741,25.8);
 legendDatasets(756,853,[1740,1768,1797,1825],25);
}
// E
heatmap({genes:intGenes,levels:intLevels,x0:982.3,x1:1780,y0:1156.7,y1:1864,ds:[925,950],cl:[954,979],labelTop:1873,numbers:false,
  clusterColor:r=>clusterColors[Math.floor(r/4)],datasetColor:r=>datasetColors[r%4]});
text("Cluster",1848,1226,{size:21});
legendCells(1829,1852,1855,1878,1236,25.7);
text("Dataset",1853,1407,{size:21});
legendDatasets(1805,1903,[1416,1445,1473,1502],26.5);
colorbar({x0:1832,x1:1875,y0:1647,y1:1835,domain:[-2.48,2.56],ticks:[-2,-1,0,1,2],tx:1853,ty:[1585,1609,1634]});
</script></body></html>
